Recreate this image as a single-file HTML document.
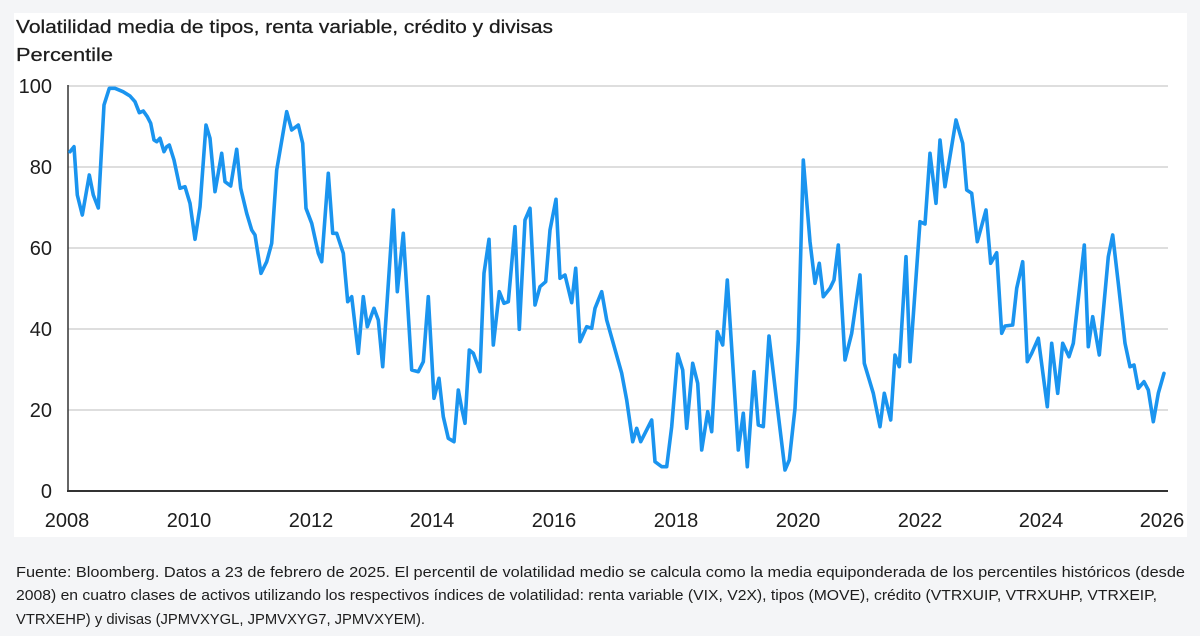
<!DOCTYPE html>
<html>
<head>
<meta charset="utf-8">
<style>
  html, body { margin:0; padding:0; background:#f4f5f7; }
  body { width:1200px; height:636px; overflow:hidden; }
  svg { display:block; }
  text { font-family: "Liberation Sans", Arial, sans-serif; fill:#1d1d1d; }
</style>
</head>
<body>
<svg width="1200" height="636" viewBox="0 0 1200 636" xmlns="http://www.w3.org/2000/svg">
  <rect x="0" y="0" width="1200" height="636" fill="#f4f5f7"/>
  <rect x="14" y="13" width="1173" height="524" fill="#ffffff"/>

  <!-- Title -->
  <text x="16" y="33" font-size="18.5" stroke="#1d1d1d" stroke-width="0.25" textLength="537" lengthAdjust="spacingAndGlyphs">Volatilidad media de tipos, renta variable, crédito y divisas</text>
  <text x="16" y="61" font-size="18.5" stroke="#1d1d1d" stroke-width="0.25" textLength="97" lengthAdjust="spacingAndGlyphs">Percentile</text>

  <!-- Gridlines -->
  <g stroke="#d4d4d4" stroke-width="1.5">
    <line x1="68" y1="86" x2="1168" y2="86"/>
    <line x1="68" y1="167" x2="1168" y2="167"/>
    <line x1="68" y1="248" x2="1168" y2="248"/>
    <line x1="68" y1="329" x2="1168" y2="329"/>
    <line x1="68" y1="410" x2="1168" y2="410"/>
  </g>
  <!-- Axes -->
  <line x1="68" y1="85" x2="68" y2="492" stroke="#333" stroke-width="1.5"/>
  <line x1="67" y1="491" x2="1168" y2="491" stroke="#333" stroke-width="2"/>

  <!-- Y labels -->
  <g font-size="20" text-anchor="end">
    <text x="52" y="93">100</text>
    <text x="52" y="174">80</text>
    <text x="52" y="255">60</text>
    <text x="52" y="336">40</text>
    <text x="52" y="417">20</text>
    <text x="52" y="498">0</text>
  </g>

  <!-- X labels -->
  <g font-size="20" text-anchor="middle">
    <text x="67" y="527">2008</text>
    <text x="189" y="527">2010</text>
    <text x="311" y="527">2012</text>
    <text x="432" y="527">2014</text>
    <text x="554" y="527">2016</text>
    <text x="676" y="527">2018</text>
    <text x="798" y="527">2020</text>
    <text x="920" y="527">2022</text>
    <text x="1041" y="527">2024</text>
    <text x="1162" y="527">2026</text>
  </g>

  <!-- Series -->
  <polyline fill="none" stroke="#1a94ef" stroke-width="3.6" stroke-linejoin="round" stroke-linecap="round" points="
70,151.7 74,146.7 77.3,195 82.3,215 89.3,175 93.3,195 98.3,208 104,105 109.3,88.3 115,88.3 123,91.7 130,96 135,101.7 139.3,112.7 143.3,111 147.3,116.7 150.7,123.3 154,140 156.7,141.7 160,138.3 164,151.7 166.7,146.7 169.3,145 174,160 180,188.3 185,186.7 190,203.3 195,239.3 200,206.7 206,125 210,138.3 215,191.7 221.7,153.3 225,181.7 230.7,186 236.7,149.3 240.7,188.3 246.7,213.3 251.7,230 255,235
261,273.3 266.7,261.7 271.7,243.3 276.7,170 286.7,111.7 291.7,130 298.3,125 302.7,143.3 306,208.3 311.7,223.3 318.3,253.3 321.7,261.7 328.3,173.3 332.7,233.3 336.7,233.3 343.3,253.3 347.7,301.7 351.7,296.7 358.3,353.3 363.3,296.7 367.3,326.7 374,308.3 378.3,320 382.7,366.7 393.3,210 397.3,291.7 403.3,233.3 411.7,370 418.3,371.7 423.3,361.7 428.3,296.7 434,398.3 439,378.3 443.3,416.7 448.3,438.3
454,441.7 458.3,390 461.7,408.3 465,423.3 469.3,350 473.3,353.3 480,371.7 484,273.3 489,239.3 493.3,345 499.3,291.7 504,303.3 508.3,301.7 515,226.7 519.3,329.3 525,220 530,208.3 535,305 540,286.7 545.7,281.7 550,230 556,199.3 560,278.3 565,275 571.7,302.7 575.7,268.3 580,341.7 586.7,326.7 591.7,328.3 595,308.3 601.7,291.7 606.7,320 621.7,373.3 626.7,400 632.7,441.7 636.7,428.3 640.7,441.7
651.7,420 655,461.7 661.7,466.7 666.7,466.7 671.7,426.7 677.7,354 682.7,370 686.7,428.3 692.7,363.3 697.7,383.3 701.7,450 707.7,411.7 711.7,431.7 717.3,331.7 722.7,345 727.3,280 732.7,363.3 738.3,450 743.3,413.3 747.3,466.7 754,371.7 758.3,425 763.3,426.7 769,336 776.7,401.7 785,470 789.3,460 795,408.3 798.3,340 803.3,160 810,241.7 815,283.3 819.3,263.3 823.3,296.7
830,288.3 834,280 838.3,245 845,360 851.7,333.3 860,275 864.3,363.3 873.3,393.3 880,426.7 884.3,393.3 890.7,420 895,355 899.3,366.7 906,256.7 910,361.7 920,221.7 925,224 930,153.3 936,203.3 940,140 945,186.7 956,120 962.7,143.3 966.7,190 971.7,193.3 977.3,241.7 986,210 990.7,263.3 996.7,252.7 1001.7,333.3 1005,326 1012.7,325 1016.7,288.3 1022.7,261.7
1027.3,361.7 1031.7,353.3 1038.3,338.3 1047.3,406.7 1051.7,343.3 1057.7,393.3 1062.7,343.3 1069,356.7 1073.3,343.3 1084.3,245 1088.3,346.7 1092.7,316.7 1099.3,355 1108.3,256.7 1112.7,235 1118.3,283.3 1125,343.3 1130,366.7 1134,365 1138.3,388.3 1144,381.7 1148.3,390 1153.3,421.7 1158.3,393.3 1164,373.3"/>

  <!-- Footnote -->
  <g font-size="15">
    <text x="16" y="577" textLength="1169" lengthAdjust="spacingAndGlyphs">Fuente: Bloomberg. Datos a 23 de febrero de 2025. El percentil de volatilidad medio se calcula como la media equiponderada de los percentiles históricos (desde</text>
    <text x="16" y="600" textLength="1141" lengthAdjust="spacingAndGlyphs">2008) en cuatro clases de activos utilizando los respectivos índices de volatilidad: renta variable (VIX, V2X), tipos (MOVE), crédito (VTRXUIP, VTRXUHP, VTRXEIP,</text>
    <text x="16" y="624" textLength="409" lengthAdjust="spacingAndGlyphs">VTRXEHP) y divisas (JPMVXYGL, JPMVXYG7, JPMVXYEM).</text>
  </g>
</svg>
</body>
</html>
